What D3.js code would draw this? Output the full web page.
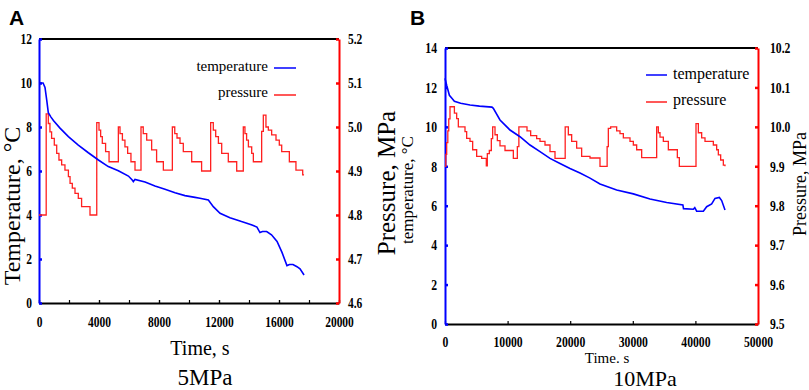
<!DOCTYPE html>
<html>
<head>
<meta charset="utf-8">
<script src="https://cdn.jsdelivr.net/npm/d3@7"></script>
<style>
  body { margin: 0; background: #fff; }
  svg { display: block; }
</style>
</head>
<body>
<div id="chart"></div>
<script>
// Panel A (5 MPa) - [time s, value]
const tempA = [
  [0, 10.0], [270, 10.0], [400, 9.8], [520, 9.2], [620, 8.65], [800, 8.45], [960, 8.3],
  [1400, 7.95], [1960, 7.56], [2620, 7.18], [3290, 6.83], [3960, 6.5], [4620, 6.2],
  [5290, 6.01], [5960, 5.77], [6200, 5.6], [6290, 5.52], [6400, 5.62], [7070, 5.5],
  [7730, 5.32], [8400, 5.17], [9070, 5.01], [9730, 4.88], [10400, 4.8], [10730, 4.76],
  [11290, 4.68], [11620, 4.38], [12070, 4.08], [12730, 3.88], [13500, 3.7], [14200, 3.55],
  [14530, 3.45], [14730, 3.2], [14900, 3.25], [15180, 3.25], [15500, 3.1], [15870, 2.8],
  [16200, 2.3], [16530, 1.7], [16700, 1.75], [16930, 1.75], [17200, 1.65], [17400, 1.55],
  [17670, 1.27]
];
const pressA = [
  [0, 4.80], [480, 5.03], [620, 5.008], [730, 4.989], [840, 4.974], [1020, 4.959],
  [1180, 4.94], [1330, 4.925], [1510, 4.914], [1730, 4.902], [1960, 4.887], [2070, 4.872],
  [2220, 4.861], [2400, 4.849], [2620, 4.838], [2840, 4.819], [3400, 4.80],
  [3850, 5.01], [4000, 4.993], [4110, 4.978], [4220, 4.963], [4440, 4.944], [4670, 4.921],
  [5290, 5.0], [5400, 4.985], [5560, 4.97], [5730, 4.955], [5910, 4.94], [6130, 4.921], [6400, 4.902],
  [6800, 5.0], [6950, 4.985], [7180, 4.97], [7510, 4.948], [7840, 4.921], [8290, 4.902],
  [8890, 5.0], [9050, 4.985], [9200, 4.975], [9400, 4.963], [9620, 4.944], [10180, 4.921], [10840, 4.90],
  [11444, 5.01], [11620, 4.993], [11780, 4.978], [11960, 4.963], [12180, 4.94], [12620, 4.921], [13180, 4.90],
  [13620, 5.0], [13730, 4.985], [13840, 4.97], [13960, 4.955], [14180, 4.94], [14290, 4.921],
  [14844, 4.99], [14955, 5.027], [15130, 5.0], [15290, 4.993], [15510, 4.982], [15800, 4.97],
  [16020, 4.959], [16180, 4.944], [16690, 4.921], [17130, 4.902], [17580, 4.891], [17670, 4.891]
];

// Panel B (10 MPa)
const tempB = [
  [0, 12.46], [300, 12.07], [700, 11.6], [1100, 11.45], [1500, 11.3], [2500, 11.2],
  [4000, 11.11], [5500, 11.05], [7500, 11.0], [7720, 10.94], [8786, 10.35], [10384, 9.84],
  [11981, 9.5], [13578, 9.08], [15176, 8.74], [16773, 8.4], [18371, 8.14], [19968, 7.89],
  [21565, 7.66], [23163, 7.4], [24760, 7.1], [27422, 6.8], [30085, 6.6], [32747, 6.34],
  [35410, 6.16], [38000, 6.04], [38100, 5.85], [39670, 5.82], [39900, 5.9], [40202, 5.72],
  [41268, 5.72], [41800, 5.95], [42599, 6.09], [43131, 6.37], [43823, 6.42], [44196, 6.26],
  [44728, 5.78]
];
const pressB = [
  [0, 9.90], [130, 9.93], [270, 9.96], [450, 9.99], [600, 10.02], [800, 10.051],
  [1500, 10.035], [1864, 10.021], [2130, 10.0], [3195, 9.988], [3461, 9.971], [3994, 9.963],
  [4420, 9.942], [5059, 9.925], [5857, 9.92], [6600, 9.901], [6760, 9.932], [7080, 9.94],
  [7400, 9.97], [7615, 10.0], [7987, 9.98], [8360, 9.965], [8786, 9.952], [9585, 9.94],
  [10917, 9.92], [11555, 9.95], [11800, 10.0], [13100, 9.99], [13685, 9.978], [14643, 9.97],
  [15176, 9.963], [15974, 9.954], [16773, 9.937], [17572, 9.92], [19200, 10.0], [19702, 9.98],
  [20234, 9.963], [21032, 9.946], [21831, 9.925], [23163, 9.921], [24760, 9.90], [25900, 9.95],
  [26091, 9.996], [26464, 10.0], [27422, 9.99], [27955, 9.983], [28488, 9.972], [29553, 9.963],
  [30085, 9.954], [30618, 9.942], [31416, 9.922], [33812, 10.0], [34078, 9.985], [34345, 9.974],
  [34878, 9.963], [35676, 9.942], [37114, 9.922], [37434, 9.9], [40096, 10.008], [40469, 9.985],
  [41001, 9.972], [41534, 9.963], [42865, 9.954], [43398, 9.942], [43664, 9.929], [44037, 9.916],
  [44463, 9.903], [44728, 9.9]
];

// tick values
const xTicksA = [0, 4000, 8000, 12000, 16000, 20000];
const xMinorA = d3.range(0, 20001, 2000);
const tTicksA = [0, 2, 4, 6, 8, 10, 12];
const pTicksA = [4.6, 4.7, 4.8, 4.9, 5.0, 5.1, 5.2];
const xTicksB = [0, 10000, 20000, 30000, 40000, 50000];
const tTicksB = [0, 2, 4, 6, 8, 10, 12, 14];
const pTicksB = [9.5, 9.6, 9.7, 9.8, 9.9, 10.0, 10.1, 10.2];

const W = 809, H = 390;
const serif = "'Liberation Serif', 'Times New Roman', serif";

const svg = d3.select("#chart").append("svg")
  .attr("width", W).attr("height", H);

// squeeze tick labels a bit, they look condensed in the figure
function styleTickText(axisG, size, sx, xOff) {
  axisG.selectAll("text")
    .attr("font-family", serif)
    .attr("font-weight", "bold")
    .attr("font-size", size)
    .attr("fill", "#000")
    .attr("transform", "scale(" + sx + ",1)");
  if (xOff !== null) axisG.selectAll("text").attr("x", xOff / sx);
}

function drawPanel(c) {
  const g = svg.append("g");
  const x = d3.scaleLinear().domain(c.xDomain).range([c.left, c.right]);
  const yT = d3.scaleLinear().domain(c.tDomain).range([c.bottom, c.top]);
  const yP = d3.scaleLinear().domain(c.pDomain).range([c.bottom, c.top]);

  // bottom axis: minor ticks only, then labelled one
  if (c.xMinor) {
    g.append("g")
      .attr("transform", "translate(0," + c.bottom + ")")
      .call(d3.axisBottom(x).tickValues(c.xMinor).tickSize(-3).tickSizeOuter(0).tickFormat(""))
      .call(a => a.select(".domain").remove())
      .call(a => a.selectAll("line").attr("stroke", "#000").attr("stroke-width", 1.2));
  }
  const xAxis = g.append("g")
    .attr("transform", "translate(0," + c.bottom + ")")
    .call(d3.axisBottom(x).tickValues(c.xTicks).tickSize(-3).tickSizeOuter(0)
      .tickPadding(c.xPad).tickFormat(d3.format("d")));
  xAxis.select(".domain").attr("stroke", "#000").attr("stroke-width", 2);
  xAxis.selectAll("line").attr("stroke", "#000").attr("stroke-width", 1.2);
  styleTickText(xAxis, c.tickSize, c.tickSx, null);

  // top border
  g.append("line")
    .attr("x1", x(c.xDomain[0])).attr("x2", x(c.xDomain[1]))
    .attr("y1", c.top).attr("y2", c.top)
    .attr("stroke", "#000").attr("stroke-width", 2);

  // left (temperature) axis
  const lAxis = g.append("g")
    .attr("transform", "translate(" + c.left + ",0)")
    .call(d3.axisLeft(yT).tickValues(c.tTicks).tickSize(-3).tickSizeOuter(0).tickFormat(d3.format("d")));
  lAxis.select(".domain").attr("stroke", "#0000ff").attr("stroke-width", 2);
  lAxis.selectAll("line").attr("stroke", "#0000ff").attr("stroke-width", 2.5);
  styleTickText(lAxis, c.tickSize, c.tickSx, -c.lPad);

  // right (pressure) axis
  const rAxis = g.append("g")
    .attr("transform", "translate(" + c.right + ",0)")
    .call(d3.axisRight(yP).tickValues(c.pTicks).tickSize(-3).tickSizeOuter(0).tickFormat(d3.format(".1f")));
  rAxis.select(".domain").attr("stroke", "#ff0000").attr("stroke-width", 2);
  rAxis.selectAll("line").attr("stroke", "#ff0000").attr("stroke-width", 2.5);
  styleTickText(rAxis, c.tickSize, c.tickSx, c.rPad);

  // series
  const tLine = d3.line().x(d => x(d[0])).y(d => yT(d[1]));
  const pLine = d3.line().x(d => x(d[0])).y(d => yP(d[1])).curve(d3.curveStepAfter);

  g.append("path").datum(c.press)
    .attr("d", pLine).attr("fill", "none")
    .attr("stroke", "#ff2020").attr("stroke-width", 1.3);
  g.append("path").datum(c.temp)
    .attr("d", tLine).attr("fill", "none")
    .attr("stroke", "#0000ff").attr("stroke-width", 1.6);

  // legend
  c.legend.forEach(l => {
    g.append("line")
      .attr("x1", l.x1).attr("x2", l.x2).attr("y1", l.y).attr("y2", l.y)
      .attr("stroke", l.color).attr("stroke-width", 1.5);
    g.append("text")
      .attr("x", l.tx).attr("y", l.ty)
      .attr("text-anchor", l.anchor)
      .attr("font-family", serif).attr("font-size", c.legendSize)
      .text(l.label);
  });

  // titles
  g.append("text")
    .attr("transform", "translate(" + c.lTitle[0] + "," + c.lTitle[1] + ") rotate(-90)")
    .attr("text-anchor", "middle")
    .attr("font-family", serif).attr("font-size", c.lTitle[2])
    .text(c.lTitle[3]);
  g.append("text")
    .attr("transform", "translate(" + c.rTitle[0] + "," + c.rTitle[1] + ") rotate(-90)")
    .attr("text-anchor", "middle")
    .attr("font-family", serif).attr("font-size", c.rTitle[2])
    .text(c.rTitle[3]);
  g.append("text")
    .attr("x", c.xTitle[0]).attr("y", c.xTitle[1])
    .attr("text-anchor", "middle")
    .attr("font-family", serif).attr("font-size", c.xTitle[2])
    .text(c.xTitle[3]);
  g.append("text")
    .attr("x", c.caption[0]).attr("y", c.caption[1])
    .attr("text-anchor", "middle")
    .attr("font-family", serif).attr("font-size", c.caption[2])
    .text(c.caption[3]);
  g.append("text")
    .attr("x", c.tag[0]).attr("y", c.tag[1])
    .attr("font-family", "'Liberation Sans', Arial, sans-serif")
    .attr("font-weight", "bold").attr("font-size", 21)
    .text(c.tag[2]);
}

drawPanel({
  left: 39, right: 339, top: 39, bottom: 303,
  xDomain: [0, 20000], tDomain: [0, 12], pDomain: [4.6, 5.2],
  xTicks: xTicksA, xMinor: xMinorA, tTicks: tTicksA, pTicks: pTicksA,
  temp: tempA, press: pressA,
  tickSize: 14, tickSx: 0.82, xPad: 14, lPad: 7, rPad: 9,
  legendSize: 15,
  legend: [
    { label: "temperature", color: "#0000ff", tx: 268, ty: 71, anchor: "end", x1: 274, x2: 296, y: 68 },
    { label: "pressure", color: "#ff2020", tx: 268, ty: 97, anchor: "end", x1: 274, x2: 296, y: 95 }
  ],
  lTitle: [20, 206, 24, "Temperature, °C"],
  rTitle: [395, 183, 25, "Pressure, MPa"],
  xTitle: [200, 355, 20, "Time, s"],
  caption: [205, 385, 23, "5MPa"],
  tag: [9, 25, "A"]
});

drawPanel({
  left: 445, right: 758, top: 48, bottom: 324,
  xDomain: [0, 50000], tDomain: [0, 14], pDomain: [9.5, 10.2],
  xTicks: xTicksB, xMinor: null, tTicks: tTicksB, pTicks: pTicksB,
  temp: tempB, press: pressB,
  tickSize: 15, tickSx: 0.78, xPad: 12, lPad: 8, rPad: 12,
  legendSize: 16,
  legend: [
    { label: "temperature", color: "#0000ff", tx: 673, ty: 79, anchor: "start", x1: 646, x2: 667, y: 75 },
    { label: "pressure", color: "#ff2020", tx: 673, ty: 105, anchor: "start", x1: 646, x2: 667, y: 102 }
  ],
  lTitle: [413, 190, 17, "temperature, °C"],
  rTitle: [806, 184, 18, "Pressure, MPa"],
  xTitle: [607, 363, 15, "Time. s"],
  caption: [645, 386, 22, "10MPa"],
  tag: [410, 25, "B"]
});
</script>
</body>
</html>
